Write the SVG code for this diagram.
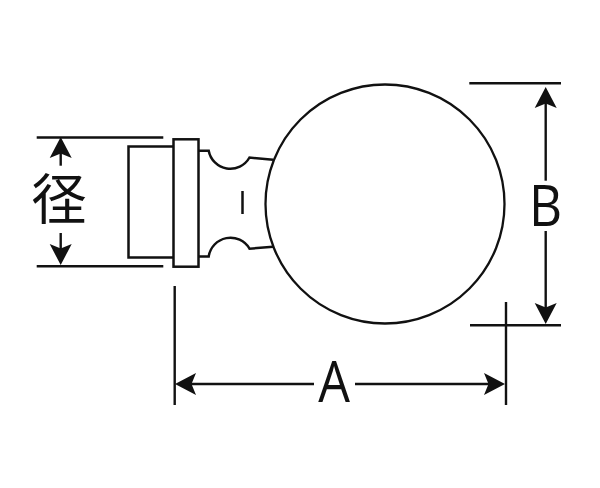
<svg xmlns="http://www.w3.org/2000/svg" width="600" height="488" viewBox="0 0 600 488">
<style>
.s{fill:none;stroke:#111;stroke-width:2.5}
.c{fill:none;stroke:#111;stroke-width:2.3}
.d{stroke:#111;stroke-width:2.4;fill:none}
.a{marker-end:url(#arrow)}
.t{fill:#111;font-family:"Open Sans","Liberation Sans",sans-serif;font-size:57px;text-anchor:middle}
.k{fill:#111;font-family:"Noto Sans CJK JP",sans-serif;font-size:55px;text-anchor:middle}
</style>
<defs>
<marker id="arrow" markerUnits="userSpaceOnUse" markerWidth="24" markerHeight="24" viewBox="0 0 24 24" refX="6" refY="12" orient="auto">
<path d="M0 1 L21 12 L0 23 L4.500 12Z" fill="#111"/>
</marker>
</defs>
<rect width="600" height="488" fill="#fff"/>
<g id="knob">
<circle class="c" cx="385" cy="204" r="119.500"/>
<path class="s" d="M173.500 146.500H128.500V257.500H173.500"/>
<rect class="s" x="173.500" y="139.300" width="25" height="127.400"/>
<path class="s" d="M198.700 150.700H208.700A22 22 0 0 0 249.500 157.500L273 159.800"/>
<path class="s" d="M198.700 256.500H208.700A22 22 0 0 1 249.500 248.700L273 246.800"/>
<path class="s" d="M242.500 191V214"/>
</g>
<g id="connectors">
<path class="d" d="M36.700 137.500H163.300M36.700 266.300H163.300"/>
<path class="d a" d="M60.700 165.700V152"/>
<path class="d a" d="M60.700 233V250"/>
<path class="d" d="M469.300 83.300H561M470 325.300H561"/>
<path class="d a" d="M545.700 180.700V102"/>
<path class="d a" d="M545.700 231V309"/>
<path class="d" d="M174.700 286V405M506 302V405"/>
<path class="d a" d="M314 384H190"/>
<path class="d a" d="M355 384H490"/>
</g>
<g id="label-dia"><text class="k" x="59" y="219">径</text></g>
<g id="label-a"><text class="t" transform="translate(334 402.300) scale(.88 1)">A</text></g>
<g id="label-b"><text class="t" transform="translate(545.500 226) scale(.9 1)">B</text></g>
</svg>
